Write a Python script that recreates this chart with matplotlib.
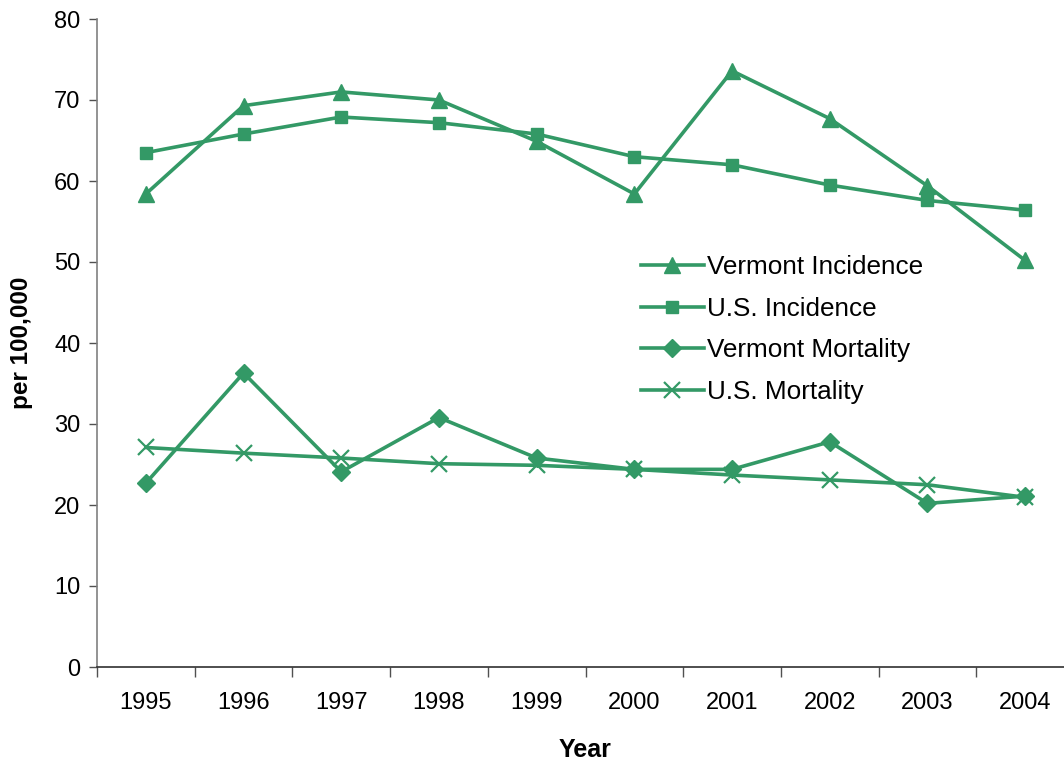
#!/usr/bin/env python
# Vermont vs U.S. incidence / mortality, 1995-2004

import numpy as np
import matplotlib as mpl
mpl.use('Agg')
import matplotlib.pyplot as plt
from matplotlib.ticker import FixedLocator

plt.rcParams['font.family'] = ['Liberation Sans', 'DejaVu Sans']

# data
years = ['1995', '1996', '1997', '1998', '1999', '2000', '2001', '2002', '2003', '2004']
vt_incidence = [58.4, 69.3, 71.0, 70.0, 64.9, 58.4, 73.6, 67.7, 59.4, 50.2]
us_incidence = [63.5, 65.8, 67.9, 67.2, 65.8, 63.0, 62.0, 59.5, 57.6, 56.4]
vt_mortality = [22.7, 36.3, 24.1, 30.8, 25.8, 24.4, 24.4, 27.8, 20.2, 21.1]
us_mortality = [27.1, 26.4, 25.8, 25.1, 24.9, 24.4, 23.7, 23.1, 22.5, 20.95]

color = '#339966'
x = np.arange(len(years))

fig = plt.figure(figsize=(10.64, 7.63), dpi=100)
ax = fig.add_axes([97/1064., 96/763., 977/1064., 648/763.])

lw = 2.6
ax.plot(x, vt_incidence, color=color, lw=lw, marker='^', ms=11, label='Vermont Incidence')
ax.plot(x, us_incidence, color=color, lw=lw, marker='s', ms=9, label='U.S. Incidence')
ax.plot(x, vt_mortality, color=color, lw=lw, marker='D', ms=9, label='Vermont Mortality')
ax.plot(x, us_mortality, color=color, lw=lw, marker='x', ms=12, mew=1.6, label='U.S. Mortality')

ax.set_xlim(-0.5, len(years) - 0.5)
ax.set_ylim(0, 80)
ax.set_yticks(np.arange(0, 81, 10))
ax.set_xticks(x)
ax.set_xticklabels(years)
ax.xaxis.set_minor_locator(FixedLocator(np.arange(-0.5, len(years), 1.0)))

ax.spines['top'].set_visible(False)
ax.spines['right'].set_visible(False)
ax.spines['left'].set_color('#808080')
ax.spines['left'].set_linewidth(1.2)
ax.spines['bottom'].set_color('#303030')
ax.spines['bottom'].set_linewidth(1.2)

ax.tick_params(axis='y', which='major', direction='out', length=6, width=1, color='#505050',
               labelsize=17, pad=6)
ax.tick_params(axis='x', which='major', length=0, labelsize=17, pad=18)
ax.tick_params(axis='x', which='minor', direction='out', length=7, width=1, color='#505050')

ax.set_xlabel('Year', fontsize=18, fontweight='bold', labelpad=17)
ax.set_ylabel('per 100,000', fontsize=17.5, fontweight='bold', labelpad=15)

leg = ax.legend(loc='upper left', bbox_to_anchor=(0.546, 0.652), frameon=False, fontsize=18.8,
                handlelength=2.4, handletextpad=0.15, labelspacing=0.68, borderaxespad=0)

fig.savefig('out.png', dpi=100)
